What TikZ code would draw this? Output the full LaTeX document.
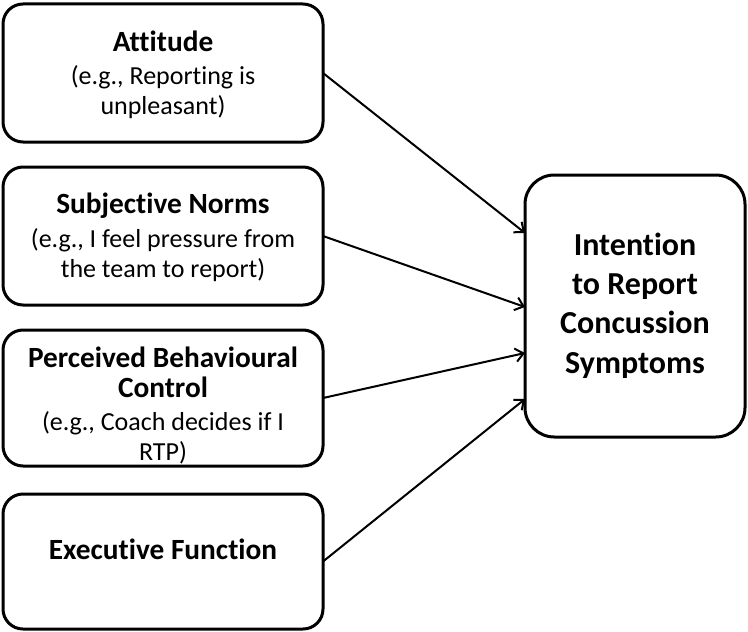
\documentclass[tikz,border=0pt]{standalone}
\usepackage{fontspec}
\setmainfont{Carlito}[Ligatures=NoCommon]
\usetikzlibrary{arrows.meta}
\newcommand{\hfont}{\fontsize{22}{26}\selectfont\bfseries}
\newcommand{\bfont}{\fontsize{19.5}{22.5}\selectfont}
\begin{document}
\begin{tikzpicture}[x=0.75pt,y=-0.75pt,
  factor/.style={draw,line width=2.25pt,rounded corners=15pt,inner sep=0pt,outer sep=0pt,
    minimum width=240pt,minimum height=103.5pt},
  outcome/.style={draw,line width=2.25pt,rounded corners=22pt,inner sep=0pt,outer sep=0pt,
    minimum width=165pt,minimum height=196.5pt},
  label/.style={align=center,inner sep=0pt,anchor=base,font=\bfont},
  link/.style={line width=1.5pt,-{Straight Barb[length=6pt,width=10pt,line width=1.5pt]}}]
\useasboundingbox (0,0) rectangle (748,631);

% boxes
\node[factor] (att) at (163,73) {};
\node[factor] (sn)  at (163,236) {};
\node[factor,minimum height=102pt] (pbc) at (163,398) {};
\node[factor,minimum height=101.25pt] (ef) at (163,561.5) {};
\node[outcome] (int) at (635,306) {};

% box texts (placed by the baseline of their last line)
\node[label] (tatt) at (163,115) {{\hfont Attitude}\\[2.5pt](e.g., Reporting is\\unpleasant)};
\node[label] (tsn) at (163,277) {{\hfont Subjective Norms}\\[2.5pt](e.g., I feel pressure from\\the team to report)};
\node[label] (tpbc) at (163,460) {{\hfont Perceived Behavioural}\\{\hfont Control}\\[2pt](e.g., Coach decides if I\\RTP)};
\node[label] (tef) at (163,559) {\hfont Executive Function};
\node[align=center,inner sep=0pt,anchor=base,font={\fontsize{24}{29.3}\selectfont\bfseries}] (tint) at (635,373)
  {Intention\\to Report\\Concussion\\Symptoms};

% connectors
\draw[link] (att.east) -- ([yshift=54.75pt]int.west);
\draw[link] (sn.east)  -- ([yshift=-0.75pt]int.west);
\draw[link] (pbc.east) -- ([yshift=-35.25pt]int.west);
\draw[link] (ef.east)  -- ([yshift=-69.75pt]int.west);
\end{tikzpicture}
\end{document}
